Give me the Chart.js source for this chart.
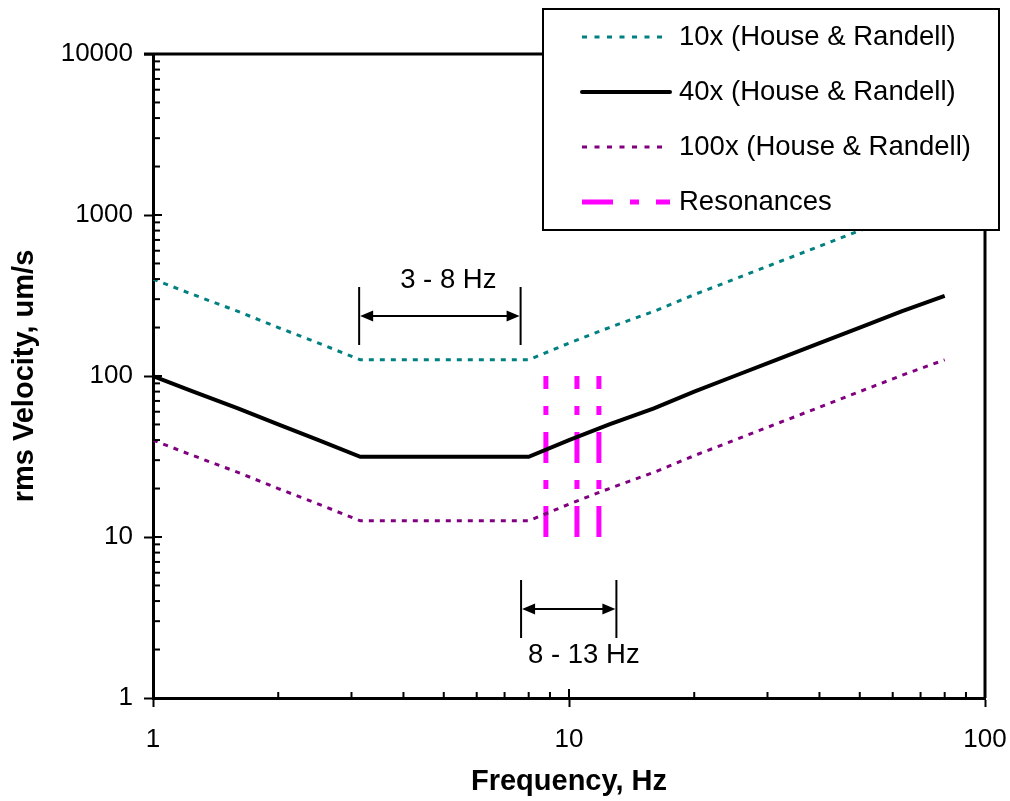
<!DOCTYPE html>
<html>
<head>
<meta charset="utf-8">
<script src="https://cdn.jsdelivr.net/npm/chart.js@4.4.0/dist/chart.umd.min.js"></script>
<style>
  html, body { margin: 0; padding: 0; background: #fff; }
  #wrap { width: 1010px; height: 801px; }
</style>
</head>
<body>
<div id="wrap"><canvas id="grafico" width="1010" height="801"></canvas></div>
<script>
// Frequências (bandas de 1/3 de oitava), Hz
const frequencias = [1, 1.25, 1.6, 2, 2.5, 3.15, 4, 5, 6.3, 8, 10, 12.5, 16, 20, 25, 31.5, 40, 50, 63, 80];

// Curvas de velocidade rms, um/s
const curva10x  = [400, 320, 252, 200, 160, 126, 126, 126, 126, 126, 160, 200, 252, 320, 400, 504, 640, 800, 1008, 1260];
const curva40x  = [100, 80, 63, 50, 40, 31.5, 31.5, 31.5, 31.5, 31.5, 40, 50, 63, 80, 100, 126, 160, 200, 252, 315];
const curva100x = [40, 32, 25.2, 20, 16, 12.6, 12.6, 12.6, 12.6, 12.6, 16, 20, 25.2, 32, 40, 50.4, 64, 80, 100.8, 126];

// Ressonâncias (linhas verticais de 10 a 100 um/s)
const ressonancias = [8.8, 10.45, 11.8];
const ressonanciaFaixa = [10, 100];

// Rótulos dos eixos
const rotulosX = [1, 10, 100];
const rotulosY = [1, 10, 100, 1000, 10000];

// Faixas anotadas: [f inicial, f final, velocidade da seta]
const faixa1 = [3.13, 7.65, 236];
const faixa2 = [7.67, 13.0, 3.57];

const fonte = "'Liberation Sans', Arial, sans-serif";

function pontos(valores) {
  return frequencias.map((f, i) => ({ x: f, y: valores[i] }));
}

function ticksLog(min, max) {
  const lista = [];
  for (let d = min; d < max; d *= 10) {
    for (let k = 1; k <= 9; k++) lista.push(k * d);
  }
  lista.push(max);
  return lista;
}

const datasets = [
  { label: "10x (House & Randell)", data: pontos(curva10x), borderColor: "#008080", borderWidth: 3, borderDash: [5, 6] },
  { label: "40x (House & Randell)", data: pontos(curva40x), borderColor: "#000000", borderWidth: 4 },
  { label: "100x (House & Randell)", data: pontos(curva100x), borderColor: "#800080", borderWidth: 3, borderDash: [5, 6] }
];
ressonancias.forEach(f => {
  datasets.push({
    label: "Resonances",
    data: [{ x: f, y: ressonanciaFaixa[0] }, { x: f, y: ressonanciaFaixa[1] }],
    borderColor: "#FF00FF", borderWidth: 5, borderDash: [31, 17, 9, 17]
  });
});
datasets.forEach(d => { d.pointRadius = 0; d.tension = 0; d.fill = false; d.borderCapStyle = "butt"; });

// Ticks internos, moldura, setas e legenda
const decoracao = {
  id: "decoracao",
  afterDraw(chart) {
    const ctx = chart.ctx;
    const a = chart.chartArea;
    const sx = chart.scales.x, sy = chart.scales.y;
    ctx.save();
    ctx.strokeStyle = "#000";

    // ticks internos
    ctx.lineWidth = 2;
    sx.ticks.forEach(t => {
      const px = sx.getPixelForValue(t.value);
      if (t.value === 1 || t.value === 100) return;
      ctx.beginPath();
      ctx.moveTo(px, a.bottom);
      ctx.lineTo(px, a.bottom - (t.major ? 9 : 6));
      ctx.stroke();
    });
    sy.ticks.forEach(t => {
      const py = sy.getPixelForValue(t.value);
      if (t.value === 1 || t.value === 10000) return;
      ctx.beginPath();
      ctx.moveTo(a.left, py);
      ctx.lineTo(a.left + (t.major ? 9 : 7), py);
      ctx.stroke();
    });

    // moldura superior e direita
    ctx.lineWidth = 3;
    ctx.beginPath();
    ctx.moveTo(a.left - 9, a.top);
    ctx.lineTo(a.right, a.top);
    ctx.lineTo(a.right, a.bottom);
    ctx.stroke();

    // setas das faixas
    function seta(faixa, texto, dxTexto, dyTexto) {
      const x1 = sx.getPixelForValue(faixa[0]);
      const x2 = sx.getPixelForValue(faixa[1]);
      const y = sy.getPixelForValue(faixa[2]);
      ctx.strokeStyle = "#000";
      ctx.fillStyle = "#000";
      ctx.lineWidth = 2;
      ctx.beginPath();
      ctx.moveTo(x1, y - 29); ctx.lineTo(x1, y + 29);
      ctx.moveTo(x2, y - 29); ctx.lineTo(x2, y + 29);
      ctx.moveTo(x1 + 10, y); ctx.lineTo(x2 - 10, y);
      ctx.stroke();
      ctx.beginPath();
      ctx.moveTo(x1 + 1, y); ctx.lineTo(x1 + 14, y - 5.5); ctx.lineTo(x1 + 14, y + 5.5); ctx.closePath();
      ctx.moveTo(x2 - 1, y); ctx.lineTo(x2 - 14, y - 5.5); ctx.lineTo(x2 - 14, y + 5.5); ctx.closePath();
      ctx.fill();
      ctx.font = "27.5px " + fonte;
      ctx.textAlign = "left";
      ctx.textBaseline = "middle";
      ctx.fillText(texto, x1 + dxTexto, y + dyTexto);
    }
    seta(faixa1, "3 - 8 Hz", 41, -36);
    seta(faixa2, "8 - 13 Hz", 7, 46);

    // legenda
    ctx.fillStyle = "#fff";
    ctx.fillRect(543, 9, 456, 221);
    ctx.strokeStyle = "#000";
    ctx.lineWidth = 2;
    ctx.strokeRect(543, 9, 456, 221);
    const itens = [
      { texto: datasets[0].label, cor: "#008080", largura: 3, dash: [5, 7.5] },
      { texto: datasets[1].label, cor: "#000000", largura: 4, dash: [] },
      { texto: datasets[2].label, cor: "#800080", largura: 3, dash: [5, 7.5] },
      { texto: "Resonances", cor: "#FF00FF", largura: 5, dash: [31, 17, 9, 17] }
    ];
    itens.forEach((it, i) => {
      const y = 37 + i * 55;
      ctx.strokeStyle = it.cor;
      ctx.lineWidth = it.largura;
      ctx.setLineDash(it.dash);
      ctx.lineCap = i === 1 ? "round" : "butt";
      ctx.beginPath();
      ctx.moveTo(582, y);
      ctx.lineTo(i === 0 || i === 2 ? 664 : 670, y);
      ctx.stroke();
      ctx.setLineDash([]);
      ctx.fillStyle = "#000";
      ctx.font = "27.5px " + fonte;
      ctx.textAlign = "left";
      ctx.textBaseline = "middle";
      ctx.fillText(it.texto, 679, y);
    });
    ctx.restore();
  }
};

const corTick = c => (c.tick && c.tick.major ? "#000" : "rgba(0,0,0,0)");

new Chart(document.getElementById("grafico").getContext("2d"), {
  type: "line",
  data: { datasets },
  options: {
    responsive: false,
    animation: false,
    devicePixelRatio: 1,
    layout: { padding: { top: 54, right: 25, left: 0, bottom: 0 } },
    plugins: { legend: { display: false }, tooltip: { enabled: false } },
    scales: {
      x: {
        type: "logarithmic",
        min: 1, max: 100,
        afterBuildTicks: s => { s.ticks = ticksLog(1, 100).map(v => ({ value: v, major: rotulosX.includes(v) })); },
        afterFit: s => { s.height = 103; s.paddingLeft = 0; s.paddingRight = 0; },
        grid: { drawOnChartArea: false, drawTicks: true, tickLength: 9, tickWidth: 2, tickColor: corTick },
        border: { display: true, color: "#000", width: 3 },
        ticks: {
          autoSkip: false, maxRotation: 0, padding: 17, color: "#000",
          font: { family: fonte, size: 26 },
          callback: v => (rotulosX.includes(v) ? String(v) : "")
        },
        title: {
          display: true, text: "Frequency, Hz", color: "#000",
          font: { family: fonte, size: 29, weight: "bold" },
          padding: { top: 0, bottom: 2 }
        }
      },
      y: {
        type: "logarithmic",
        min: 1, max: 10000,
        afterBuildTicks: s => { s.ticks = ticksLog(1, 10000).map(v => ({ value: v, major: rotulosY.includes(v) })); },
        afterFit: s => { s.width = 153; s.paddingTop = 0; s.paddingBottom = 0; },
        grid: { drawOnChartArea: false, drawTicks: true, tickLength: 9, tickWidth: 2, tickColor: corTick },
        border: { display: true, color: "#000", width: 3 },
        ticks: {
          autoSkip: false, padding: 11, color: "#000",
          font: { family: fonte, size: 26 },
          callback: v => (rotulosY.includes(v) ? String(v) : "")
        },
        title: {
          display: true, text: "rms Velocity, um/s", color: "#000",
          font: { family: fonte, size: 29, weight: "bold" },
          padding: { top: 8, bottom: 0 }
        }
      }
    }
  },
  plugins: [decoracao]
});
</script>
</body>
</html>
